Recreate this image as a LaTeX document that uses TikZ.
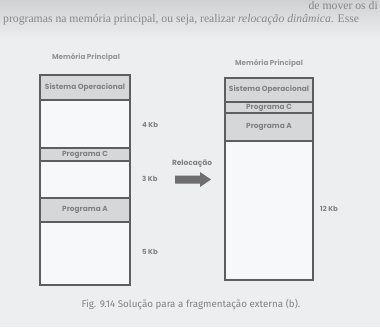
\documentclass[tikz,border=0pt]{standalone}
\usepackage{fontspec}
\setmainfont{Liberation Serif}
\newfontfamily\figfont{Poppins}
\newfontfamily\capfont{Fira Sans}
\definecolor{paper}{HTML}{ECEEF0}
\definecolor{frame}{HTML}{5E5E60}
\definecolor{band}{HTML}{D6D7D8}
\definecolor{ink}{HTML}{818285}
\definecolor{bodyink}{HTML}{85878B}
\tikzset{
  memframe/.style={draw=frame, line width=1.8pt, fill=white!60!paper},
  bandcell/.style={draw=frame, line width=1.2pt, fill=band},
  lbl/.style={font=\figfont\bfseries\fontsize{7.4}{8}\selectfont, text=ink, inner sep=0pt},
  title/.style={font=\figfont\bfseries\fontsize{7.2}{8}\selectfont, text=ink!85, inner sep=0pt},
  sizelbl/.style={font=\figfont\bfseries\fontsize{7}{8}\selectfont, text=ink, inner sep=0pt, anchor=west},
}
\begin{document}
\begin{tikzpicture}[x=1pt,y=-1pt]
\useasboundingbox (0,0) rectangle (380,327);
\begin{scope}
\clip (0,0) rectangle (380,327);
\fill[paper] (0,0) rectangle (380,327);
\fill[top color=black!12!paper, bottom color=paper] (0,0) rectangle (380,40);

% running text of the page
\node[anchor=base west, text=bodyink, font=\fontsize{11.7}{13}\selectfont, inner sep=0pt] (txt2) at (3,22)
  {programas na memória principal, ou seja, realizar \textit{relocação dinâmica}. Esse};
\node[anchor=base east, text=bodyink, font=\fontsize{11.7}{13}\selectfont, inner sep=0pt] (txt1) at (378,9.5)
  {de mover os di};

% left memory
\node[title] (tl) at (86,57) {Memória Principal};
\draw[memframe] (40,75) rectangle (130,285);
\draw[bandcell] (40,75) rectangle (130,100);
\node[lbl] (so1) at (85,87.5) {Sistema Operacional};
\draw[bandcell] (40,148) rectangle (130,161);
\node[lbl] (pc1) at (85,154.5) {Programa C};
\draw[bandcell] (40,198) rectangle (130,222);
\node[lbl] (pa1) at (85,210) {Programa A};
\draw[frame, line width=1.8pt] (40,75) rectangle (130,285);
\node[sizelbl] (k4) at (142,125) {4 Kb};
\node[sizelbl] (k3) at (142,179) {3 Kb};
\node[sizelbl] (k5) at (142,252) {5 Kb};

% relocation arrow
\node[lbl] (rel) at (192,164) {Relocação};
\coordinate (atail) at (175,179.5);
\coordinate (atip) at (211,179.5);
\fill[frame!90] (atail) ++(0,-4) -- ++(25,0) -- ++(0,-3.5) -- (atip) -- ++(-11,7.5) -- ++(0,-3.5) -- ++(-25,0) -- cycle;

% right memory
\node[title] (tr) at (269,63) {Memória Principal};
\draw[memframe] (225,78) rectangle (313,280);
\draw[bandcell] (225,78) rectangle (313,102);
\node[lbl] (so2) at (269,90) {Sistema Operacional};
\draw[bandcell] (225,102) rectangle (313,113);
\node[lbl] (pc2) at (269,107.5) {Programa C};
\draw[bandcell] (225,113) rectangle (313,141);
\node[lbl] (pa2) at (269,127) {Programa A};
\draw[frame, line width=1.8pt] (225,78) rectangle (313,280);
\node[sizelbl] (k12) at (320,209) {12 Kb};

% caption
\node[font=\capfont\fontsize{9.8}{11}\selectfont, text=ink, inner sep=0pt] (cap) at (191,305)
  {Fig. 9.14 Solução para a fragmentação externa (b).};
\end{scope}
\end{tikzpicture}
\end{document}
